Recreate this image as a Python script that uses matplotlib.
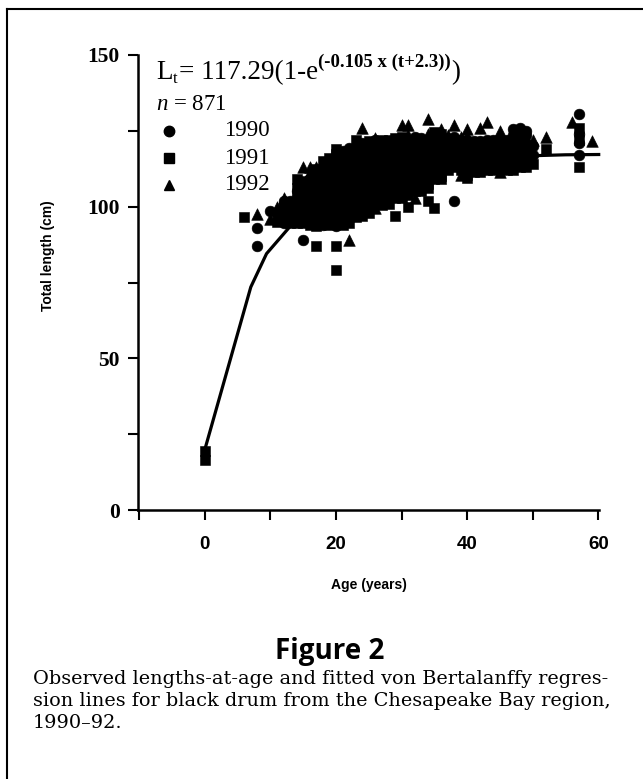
import matplotlib
matplotlib.use("Agg")
import matplotlib.pyplot as plt
from matplotlib.lines import Line2D
from matplotlib.ticker import FixedLocator

plt.rcParams['mathtext.fontset'] = 'custom'
plt.rcParams['mathtext.rm'] = 'Liberation Serif'
plt.rcParams['mathtext.it'] = 'Liberation Serif:italic'
plt.rcParams['mathtext.bf'] = 'Liberation Serif:bold'

# ---------------- data (age in years -> total lengths in cm) ----------------
len_1990 = {
    8: [87, 93], 10: [98.5], 11: [97.5], 12: [94.5, 96, 98, 100.5, 102],
    13: [96, 97, 98, 100.5, 102], 14: [96.5, 98, 100.5, 103.5, 105],
    15: [89, 96.5, 98, 100.5, 103.5, 105],
    16: [95.5, 97.5, 99, 102.5, 104.5, 106, 109.5],
    17: [95, 96, 99.5, 103.5, 104.5, 107, 109.5, 110.5],
    18: [94, 95.5, 98, 100.5, 101.5, 103, 105.5, 108, 109, 110.5, 112.5],
    19: [95.5, 96.5, 98, 100.5, 103, 104, 105.5, 108, 110.5, 111, 112.5, 115],
    20: [93.5, 95.5, 97.5, 100, 101, 102.5, 105, 107.5, 108.5, 110, 112, 114.5, 115.5],
    21: [95.5, 96.5, 98, 100.5, 103, 104, 105.5, 108, 110.5, 111.5, 113, 115.5, 118.5],
    22: [96, 97, 98.5, 101, 103.5, 104.5, 106, 108.5, 111, 112, 113.5, 116, 119.5],
    23: [98, 99, 100.5, 103, 105.5, 106.5, 108, 110.5, 113, 114, 115.5, 118],
    24: [98.5, 99.5, 101, 103.5, 106, 107, 108.5, 111, 113.5, 114.5, 116, 118.5, 121],
    25: [99.5, 100.5, 102, 104.5, 107, 108, 109.5, 112, 114.5, 115.5, 117, 119.5],
    26: [101, 102, 103.5, 106, 108.5, 109.5, 111, 113.5, 116, 117, 118.5, 121, 122],
    27: [102, 103, 104.5, 107, 109.5, 110.5, 112, 114.5, 117, 118, 119.5, 121],
    28: [102.5, 103.5, 105, 107.5, 110, 111, 112.5, 115, 117.5, 118.5, 120],
    29: [104.5, 105.5, 107, 109.5, 112, 113, 114.5, 117, 119.5, 120.5, 121.5],
    30: [104.5, 105.5, 107, 109.5, 112, 113, 114.5, 117, 119.5, 120.5, 122],
    31: [105.5, 106.5, 108, 110.5, 113, 114, 115.5, 118, 120, 121],
    32: [106.5, 107.5, 109, 111.5, 114, 115, 116.5, 119, 121.5, 123],
    33: [106.5, 107.5, 109, 111.5, 114, 115, 116.5, 119, 121.5, 122.5],
    34: [109, 110, 111.5, 114, 116.5, 117.5, 119, 121],
    35: [110.5, 111.5, 113, 115.5, 118, 119, 120.5, 123],
    36: [111.5, 112.5, 114, 116.5, 119, 120, 121, 123],
    37: [113, 114.5, 116, 118.5, 121, 122],
    38: [102, 114.5, 115.5, 117, 119.5, 122, 123],
    39: [113.5, 114.5, 116, 118.5, 121, 122],
    40: [112, 113, 114.5, 117, 119.5, 120.5, 122],
    41: [113, 114, 115.5, 118, 120.5, 121.5],
    42: [113, 114, 115.5, 118, 120.5, 121.5],
    43: [113, 114.5, 115.5, 118, 120.5, 122],
    44: [113, 114.5, 115.5, 118, 120.5, 122],
    45: [113, 114, 115.5, 118, 120.5, 121.5],
    46: [113, 114.5, 115.5, 118, 120.5, 122],
    47: [115.5, 117, 119, 121, 123.5, 125.5],
    48: [118, 120.5, 123, 126], 49: [118.5, 121, 123.5, 125], 50: [117, 120],
    57: [130.5, 124, 121, 117],
}
len_1991 = {
    0: [16.5, 19.5], 6: [96.5], 11: [95], 12: [97], 13: [94.5, 99.5],
    14: [94.5, 99, 106, 109], 15: [94.5, 101, 108.5], 16: [94, 101.5, 108.5],
    17: [87, 93.5, 101, 108, 112.5], 18: [96.5, 104, 111, 115],
    19: [94, 101.5, 109, 116], 20: [79, 87, 94.5, 96, 103.5, 110.5, 117.5, 119],
    21: [94, 101.5, 109, 116], 22: [94.5, 102, 109.5, 117],
    23: [96.5, 104, 111.5, 119, 122], 24: [97, 104.5, 112, 119],
    25: [98, 105.5, 113, 120, 121.5], 26: [104.5, 112, 119.5],
    27: [100.5, 108, 115.5, 122], 28: [101, 108.5, 116, 122],
    29: [97, 103, 110.5, 118, 122.5], 30: [103, 110.5, 118, 123],
    31: [100, 104, 111.5, 119], 32: [105, 112.5, 120], 33: [105, 112.5, 120],
    34: [102, 106, 107.5, 115, 122], 35: [99.5, 109, 116.5, 124.5],
    36: [109, 110, 117.5, 124], 37: [112, 119.5], 38: [113, 120.5],
    39: [112, 119.5], 40: [109.5, 110.5, 118], 41: [111.5, 119], 42: [111.5, 119],
    43: [112, 119.5], 44: [112, 119.5], 45: [119], 46: [112, 119.5],
    47: [112, 114.5], 48: [113, 115.5], 49: [113, 116], 50: [114], 52: [119],
    57: [126, 122, 113],
}
len_1992 = {
    8: [97.5], 10: [96], 11: [100], 12: [99.5, 103], 14: [101],
    15: [99, 106, 113], 16: [96.5, 104, 111, 113], 17: [98.5, 106, 113],
    18: [99, 106.5, 113], 19: [99, 106.5, 113.5], 20: [98.5, 106, 113],
    21: [99, 106.5, 114], 22: [89, 99.5, 107, 114.5], 23: [101.5, 109, 116.5, 120],
    24: [102, 109.5, 117, 126], 25: [103, 110.5, 118], 26: [99.5, 107, 114.5, 122.5],
    27: [105.5, 113, 120], 28: [106, 113.5, 121], 29: [108, 115.5],
    30: [108, 115.5, 127], 31: [109, 116.5, 123.5, 127], 32: [103, 110, 117.5],
    33: [110, 117.5], 34: [112.5, 120, 124, 129], 35: [114, 121.5],
    36: [115, 122, 125.5], 37: [117, 123.5], 38: [118, 127], 39: [110.5, 117, 123],
    40: [115.5, 123, 125.5], 41: [116.5], 42: [116.5, 126], 43: [117, 128],
    44: [117], 45: [111.5, 116.5, 125], 46: [117], 50: [122], 52: [123],
    56: [128], 59: [121.5],
}
fit_age = [0, 7, 9.4, 13, 16, 20, 25, 30, 35, 40, 45, 50, 55, 60.3]
fit_len = [20, 73.5, 84.5, 93.5, 99, 104, 109, 112, 114, 115.5, 116.3, 116.8, 117.1, 117.2]

years = ["1990", "1991", "1992"]
markers = ["o", "s", "^"]
x_major = [0, 20, 40, 60]
x_minor = [-10, 10, 30, 50]
y_major = [0, 50, 100, 150]
y_minor = [25, 75, 125]

# ---------------- figure ----------------
W, H = 643, 779
fig = plt.figure(figsize=(W / 100, H / 100), dpi=100)
fig.patch.set_facecolor("white")

ax = fig.add_axes([138 / W, 1 - 510 / H, (599 - 138) / W, (510 - 55) / H])
ax.set_xlim(-10.2, 60.1)
ax.set_ylim(0, 150)

sizes = {"o": 60, "s": 52, "^": 70}
for data, mk in zip([len_1990, len_1991, len_1992], markers):
    xs, ys = [], []
    for age, lens in data.items():
        for L in lens:
            xs.append(age)
            ys.append(L)
    ax.scatter(xs, ys, marker=mk, s=sizes[mk], c="black", linewidths=0.4,
               edgecolors="black", zorder=3)

ax.plot(fit_age, fit_len, color="black", lw=2.3, zorder=4, clip_on=False,
        solid_capstyle="butt")

for s in ["top", "right"]:
    ax.spines[s].set_visible(False)
for s in ["left", "bottom"]:
    ax.spines[s].set_linewidth(1.8)

ax.xaxis.set_major_locator(FixedLocator(x_major))
ax.xaxis.set_minor_locator(FixedLocator(x_minor))
ax.yaxis.set_major_locator(FixedLocator(y_major))
ax.yaxis.set_minor_locator(FixedLocator(y_minor))
ax.tick_params(which="both", direction="out", length=7, width=1.5, color="black")
ax.tick_params(axis="x", pad=12)
ax.tick_params(axis="y", pad=6)
for lab in ax.get_xticklabels():
    lab.set_fontfamily("Liberation Sans")
    lab.set_fontweight("bold")
    lab.set_fontsize(13.5)
for lab in ax.get_yticklabels():
    lab.set_fontfamily("Liberation Serif")
    lab.set_fontweight("bold")
    lab.set_fontsize(15.5)

ax.set_xlabel("Age (years)", fontfamily="Liberation Sans", fontweight="bold",
              fontsize=10, labelpad=18)
ax.set_ylabel("Total length (cm)", fontfamily="Liberation Sans", fontweight="bold",
              fontsize=10)
ax.yaxis.set_label_coords(-0.181, 0.56)

# equation built from pieces (px from top for baselines)
renderer = fig.canvas.get_renderer()
pieces = [("L", 19.5, "normal", 79), ("t", 12, "normal", 83),
          ("= 117.29(1-e", 19.5, "normal", 79),
          ("(-0.105 x (t+2.3))", 13.5, "bold", 67), (")", 19.5, "normal", 79)]
xpos = 156
for txt, fs, fw, base in pieces:
    t = fig.text(xpos / W, 1 - base / H, txt, ha="left", va="baseline",
                 fontfamily="Liberation Serif", fontsize=fs, fontweight=fw)
    xpos += t.get_window_extent(renderer).width + (1 if txt == "t" else 0.5)

tfont = dict(fontfamily="Liberation Serif", fontsize=16.5, color="black")
fig.text(156 / W, 1 - 104 / H, r"$n$ = 871", va="center", ha="left", **tfont)
for i, (yr, mk) in enumerate(zip(years, markers)):
    yy = 131 + 27 * i
    fig.add_artist(Line2D([169 / W], [1 - yy / H], marker=mk, color="black",
                          markersize=7.5 if mk != "s" else 7, linestyle="none"))
    fig.text(224 / W, 1 - yy / H, yr, va="center", ha="left", **tfont)

# caption
fig.text(330 / W, 1 - 652 / H, "Figure 2", ha="center", va="center",
         fontfamily="Open Sans", fontweight="bold", fontsize=20)
cap = ["Observed lengths-at-age and fitted von Bertalanffy regres-",
       "sion lines for black drum from the Chesapeake Bay region,",
       "1990\u201392."]
for i, line in enumerate(cap):
    fig.text(33 / W, 1 - (679 + 22 * i) / H, line, ha="left", va="center",
             fontfamily="DejaVu Serif", fontsize=13.9)

# frame lines (top and left)
fig.add_artist(Line2D([7 / W, 1], [1 - 9 / H, 1 - 9 / H], color="black", lw=1.5))
fig.add_artist(Line2D([7 / W, 7 / W], [1 - 9 / H, 0], color="black", lw=1.5))

fig.savefig("out.png", dpi=100, facecolor="white")
